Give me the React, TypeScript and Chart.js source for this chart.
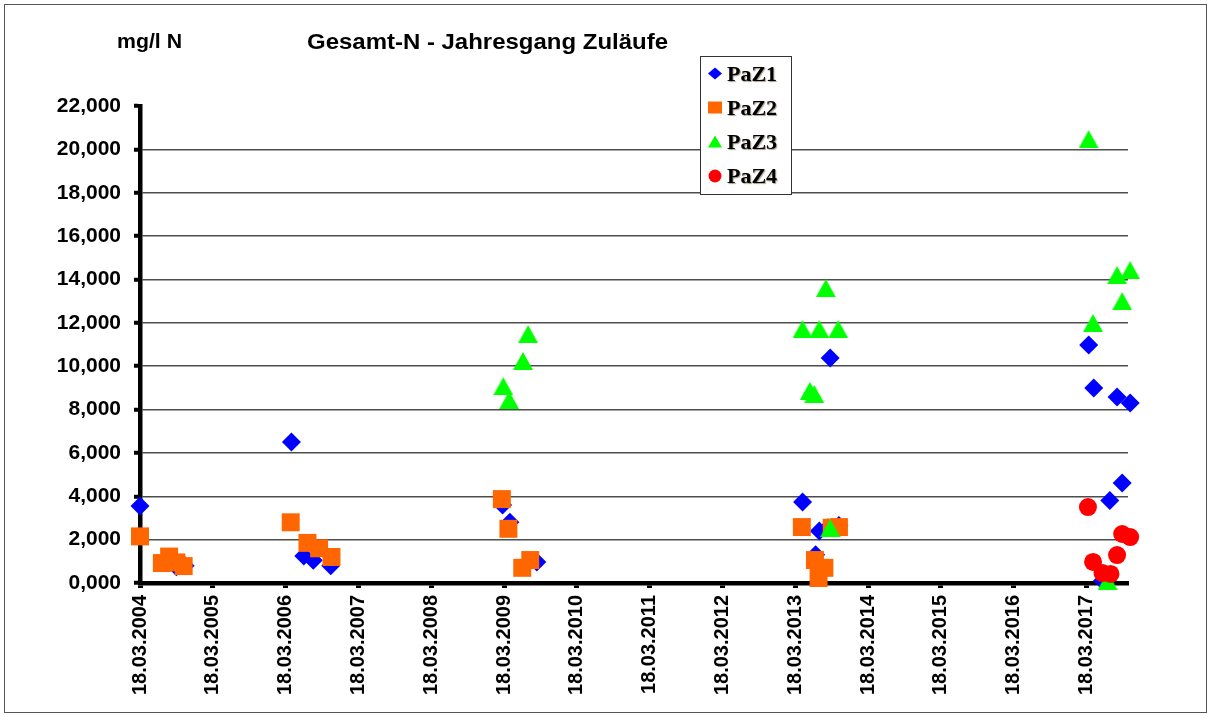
import React, { useEffect, useRef } from 'react';
import { Chart, registerables } from 'chart.js';
Chart.register(...registerables);

// ---- data ----
const titleText = 'Gesamt-N - Jahresgang Zuläufe';
const unitText = 'mg/l N';
const seriesNames = ['PaZ1', 'PaZ2', 'PaZ3', 'PaZ4'];
const seriesColors = ['#0000FF', '#FF6600', '#00FF00', '#FF0000'];
const firstTickYear = 2004;
const tickDayMonth = '18.03.';
const xAxisMaxYears = 13.57; // years after 18.03.2004
const yAxisMax = 22;
const yAxisStep = 2;

// x = years after 18.03.2004, y = mg/l N
const paz1Years = [0.0, 0.5, 0.62, 2.08, 2.25, 2.38, 2.62, 4.98, 5.08, 5.45, 9.1, 9.28, 9.33, 9.45, 9.6, 9.48, 13.03, 13.1, 13.22, 13.32, 13.42, 13.49, 13.6];
const paz1Values = [3.55, 0.75, 0.8, 6.5, 1.25, 1.05, 0.8, 3.6, 2.8, 0.97, 3.74, 1.3, 2.4, 2.55, 2.65, 10.38, 10.98, 8.99, 0.1, 3.8, 8.58, 4.61, 8.3];

const paz2Years = [0.0, 0.3, 0.4, 0.5, 0.6, 2.07, 2.3, 2.46, 2.63, 4.97, 5.06, 5.25, 5.36, 9.09, 9.27, 9.32, 9.4, 9.5, 9.6];
const paz2Values = [2.15, 0.92, 1.22, 0.95, 0.78, 2.8, 1.85, 1.6, 1.2, 3.87, 2.5, 0.7, 1.06, 2.58, 1.06, 0.23, 0.7, 2.55, 2.58];

const paz3Years = [4.99, 5.07, 5.26, 5.33, 9.1, 9.2, 9.26, 9.33, 9.42, 9.48, 9.59, 13.03, 13.09, 13.29, 13.42, 13.49, 13.6];
const paz3Values = [9.08, 8.44, 10.24, 11.48, 11.71, 8.86, 8.72, 11.71, 13.6, 2.54, 11.71, 20.47, 11.99, 0.1, 14.2, 13.0, 14.43];

const paz4Years = [13.02, 13.09, 13.22, 13.33, 13.42, 13.49, 13.6];
const paz4Values = [3.5, 0.97, 0.46, 0.42, 1.29, 2.26, 2.12];

const toPoints = (xs: number[], ys: number[]) => xs.map((x, i) => ({ x, y: ys[i] }));

function makeTriangle(w: number, h: number, color: string) {
  const c = document.createElement('canvas');
  c.width = w;
  c.height = h;
  const g = c.getContext('2d')!;
  g.fillStyle = color;
  g.beginPath();
  g.moveTo(w / 2, 0);
  g.lineTo(w, h);
  g.lineTo(0, h);
  g.closePath();
  g.fill();
  return c;
}

function drawFitted(ctx: CanvasRenderingContext2D, text: string, x: number, y: number, width: number, font: string) {
  ctx.save();
  ctx.font = font;
  const w = ctx.measureText(text).width;
  ctx.translate(x, y);
  ctx.scale(width / w, 1);
  ctx.fillStyle = '#000';
  ctx.textAlign = 'left';
  ctx.textBaseline = 'alphabetic';
  ctx.fillText(text, 0, 0);
  ctx.restore();
}

const overlayPlugin = {
  id: 'overlay',
  beforeDraw(chart: any) {
    const ctx = chart.ctx as CanvasRenderingContext2D;
    ctx.save();
    ctx.fillStyle = '#fff';
    ctx.fillRect(0, 0, chart.width, chart.height);
    ctx.restore();
  },
  afterDraw(chart: any) {
    const ctx = chart.ctx as CanvasRenderingContext2D;
    ctx.save();
    // frame
    ctx.strokeStyle = '#555';
    ctx.lineWidth = 1;
    ctx.strokeRect(4.5, 4.5, 1202, 708);
    // texts
    drawFitted(ctx, unitText, 117, 48, 65, 'bold 20px "Liberation Sans", Arial, sans-serif');
    drawFitted(ctx, titleText, 307, 49, 361, 'bold 22px "Liberation Sans", Arial, sans-serif');
    // legend
    const lx = 700, ly = 56, lw = 91, lh = 138;
    ctx.fillStyle = '#fff';
    ctx.fillRect(lx, ly, lw, lh);
    ctx.strokeStyle = '#333';
    ctx.lineWidth = 1;
    ctx.strokeRect(lx + 0.5, ly + 0.5, lw, lh);
    const rows = [73.5, 107.5, 141.5, 176];
    const sx = 715;
    rows.forEach((cy, i) => {
      ctx.fillStyle = seriesColors[i];
      ctx.beginPath();
      if (i === 0) {
        ctx.moveTo(sx, cy - 6);
        ctx.lineTo(sx + 7, cy);
        ctx.lineTo(sx, cy + 6);
        ctx.lineTo(sx - 7, cy);
        ctx.closePath();
      } else if (i === 1) {
        ctx.rect(sx - 7, cy - 6, 14, 12);
      } else if (i === 2) {
        ctx.moveTo(sx, cy - 6);
        ctx.lineTo(sx + 7, cy + 6);
        ctx.lineTo(sx - 7, cy + 6);
        ctx.closePath();
      } else {
        ctx.arc(sx, cy, 6.5, 0, Math.PI * 2);
      }
      ctx.fill();
      ctx.save();
      ctx.font = 'bold 22px "Liberation Serif", "Times New Roman", serif';
      ctx.fillStyle = '#000';
      ctx.shadowColor = 'rgba(60,40,0,0.45)';
      ctx.shadowOffsetX = 1;
      ctx.shadowOffsetY = 1;
      ctx.shadowBlur = 1;
      ctx.textBaseline = 'alphabetic';
      ctx.fillText(seriesNames[i], 727, cy + 7);
      ctx.restore();
    });
    ctx.restore();
  },
};

export default function App() {
  const ref = useRef<HTMLCanvasElement | null>(null);
  useEffect(() => {
    if (!ref.current) return;
    const tri = makeTriangle(20, 18, seriesColors[2]);
    const chart = new Chart(ref.current, {
      type: 'scatter',
      data: {
        datasets: [
          {
            label: seriesNames[0],
            data: toPoints(paz1Years, paz1Values),
            pointStyle: 'rectRot',
            pointRadius: 9.5,
            backgroundColor: seriesColors[0],
            borderWidth: 0,
            order: 4,
            clip: false as any,
          },
          {
            label: seriesNames[1],
            data: toPoints(paz2Years, paz2Values),
            pointStyle: 'rect',
            pointRadius: 12.7,
            backgroundColor: seriesColors[1],
            borderWidth: 0,
            order: 3,
            clip: false as any,
          },
          {
            label: seriesNames[2],
            data: toPoints(paz3Years, paz3Values),
            pointStyle: tri as any,
            pointRadius: 10,
            backgroundColor: seriesColors[2],
            borderWidth: 0,
            order: 2,
            clip: false as any,
          },
          {
            label: seriesNames[3],
            data: toPoints(paz4Years, paz4Values),
            pointStyle: 'circle',
            pointRadius: 9,
            backgroundColor: seriesColors[3],
            borderWidth: 0,
            order: 1,
            clip: false as any,
          },
        ],
      },
      options: {
        animation: false,
        responsive: false,
        events: [],
        layout: { padding: { left: 0, top: 106, right: 83, bottom: 0 } },
        plugins: {
          legend: { display: false },
          tooltip: { enabled: false },
          title: { display: false },
        },
        scales: {
          x: {
            type: 'linear',
            min: 0,
            max: xAxisMaxYears,
            afterFit: (s: any) => { s.height = 134; },
            ticks: {
              stepSize: 1,
              precision: 0,
              includeBounds: false,
              autoSkip: false,
              minRotation: 90,
              maxRotation: 90,
              padding: 7,
              color: '#000',
              font: { family: '"Liberation Sans", Arial, sans-serif', size: 20, weight: 'bold' },
              callback: (v: any) => tickDayMonth + (firstTickYear + Math.round(Number(v))),
            },
            grid: {
              drawOnChartArea: false,
              tickLength: 5,
              tickWidth: 5,
              tickColor: '#000',
            },
            border: { display: true, color: '#000', width: 4.5 },
          },
          y: {
            type: 'linear',
            min: 0,
            max: yAxisMax,
            afterFit: (s: any) => { s.width = 140; },
            ticks: {
              stepSize: yAxisStep,
              padding: 13,
              color: '#000',
              font: { family: '"Liberation Sans", Arial, sans-serif', size: 21, weight: 'bold' },
              callback: (v: any) => Number(v).toFixed(3).replace('.', ','),
            },
            grid: {
              color: (c: any) => (c.tick && c.tick.value === yAxisMax ? 'rgba(0,0,0,0)' : '#4d4d4d'),
              lineWidth: 1.5,
              tickLength: 6,
              tickWidth: 4,
              tickColor: '#000',
            },
            border: { display: true, color: '#000', width: 4.5 },
          },
        },
      },
      plugins: [overlayPlugin],
    });
    return () => chart.destroy();
  }, []);
  return (
    <div style={{ position: 'absolute', left: 0, top: 0, width: 1211, height: 717, background: '#fff' }}>
      <canvas ref={ref} width={1211} height={717} style={{ display: 'block', width: 1211, height: 717 }} />
    </div>
  );
}
